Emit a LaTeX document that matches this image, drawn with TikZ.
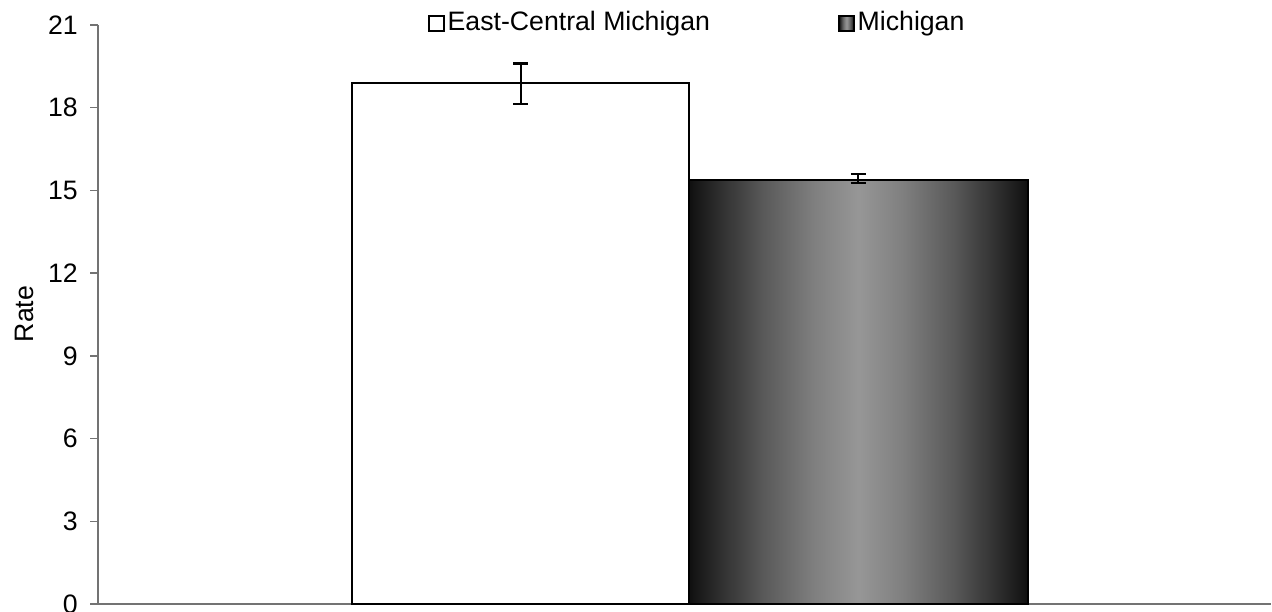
\documentclass[tikz,border=0pt]{standalone}
\usepackage{fontspec}
\setmainfont{Liberation Sans}
\usetikzlibrary{positioning}

\pgfdeclarehorizontalshading{barshade}{100bp}{color(0bp)=(black!94); color(25bp)=(black!94);
  color(27.5bp)=(black!87); color(36bp)=(black!65); color(43.5bp)=(black!50); color(50bp)=(black!41);
  color(56.5bp)=(black!50); color(64bp)=(black!65); color(72.5bp)=(black!87); color(75bp)=(black!94);
  color(100bp)=(black!94)}

\begin{document}
\begin{tikzpicture}[x=0.75pt,y=0.75pt,
  axisline/.style={black!55,line width=1pt},
  barframe/.style={draw=black,line width=1.8pt},
  errbar/.style={black,line width=1.6pt},
  greyshade/.style={shading=barshade},
  legbox/.style={draw=black,line width=1.4pt,minimum width=11pt,minimum height=11.5pt,inner sep=0pt},
  every node/.style={font=\fontsize{20}{24}\selectfont}]
\useasboundingbox (0,0) rectangle (1272,611);
\begin{scope}[shift={(98,7)},y=20.68pt]
% axes
\draw[axisline] (0,0) coordinate (o) -- (0,21) coordinate (ytop);
\draw[axisline] (o) -- (1173,0) coordinate (xend);
\foreach \v in {0,3,...,21}{
  \draw[axisline] (-8,\v) -- (0,\v);
  \node[anchor=east,inner sep=0pt] (lab\v) at (-20,\v) {\v};
}
% bars
\draw[barframe,fill=white] (254,0) coordinate (ecmleft) rectangle (591,18.9) coordinate (ecmtop);
\shade[greyshade] (591,0) rectangle (930,15.38);
\draw[barframe] (591,0) coordinate (mileft) rectangle (930,15.38) coordinate (mitop);
% error bars
\coordinate (ecmlo) at (422.7,18.12);
\coordinate (ecmhi) at (422.7,19.6);
\coordinate (milo) at (760.3,15.28);
\coordinate (mihi) at (760.3,15.58);
\draw[errbar] (ecmlo) -- (ecmhi);
\draw[errbar] ([xshift=-5.6pt]ecmlo) -- ([xshift=5.6pt]ecmlo);
\draw[errbar] ([xshift=-5.6pt]ecmhi) -- ([xshift=5.6pt]ecmhi);
\draw[errbar] (milo) -- (mihi);
\draw[errbar] ([xshift=-5.6pt]milo) -- ([xshift=5.6pt]milo);
\draw[errbar] ([xshift=-5.6pt]mihi) -- ([xshift=5.6pt]mihi);
\end{scope}
% axis title
\node[rotate=90] (ratelab) at (24,297) {Rate};
% legend
\node[legbox,fill=white] (ecmbox) at (436.5,587.5) {};
\node[right=2pt of ecmbox,inner sep=0pt] (ecmtext) {East-Central Michigan};
\node[legbox,greyshade] (mibox) at (846.5,587.5) {};
\node[right=2pt of mibox,inner sep=0pt] (mitext) {Michigan};
\end{tikzpicture}
\end{document}
